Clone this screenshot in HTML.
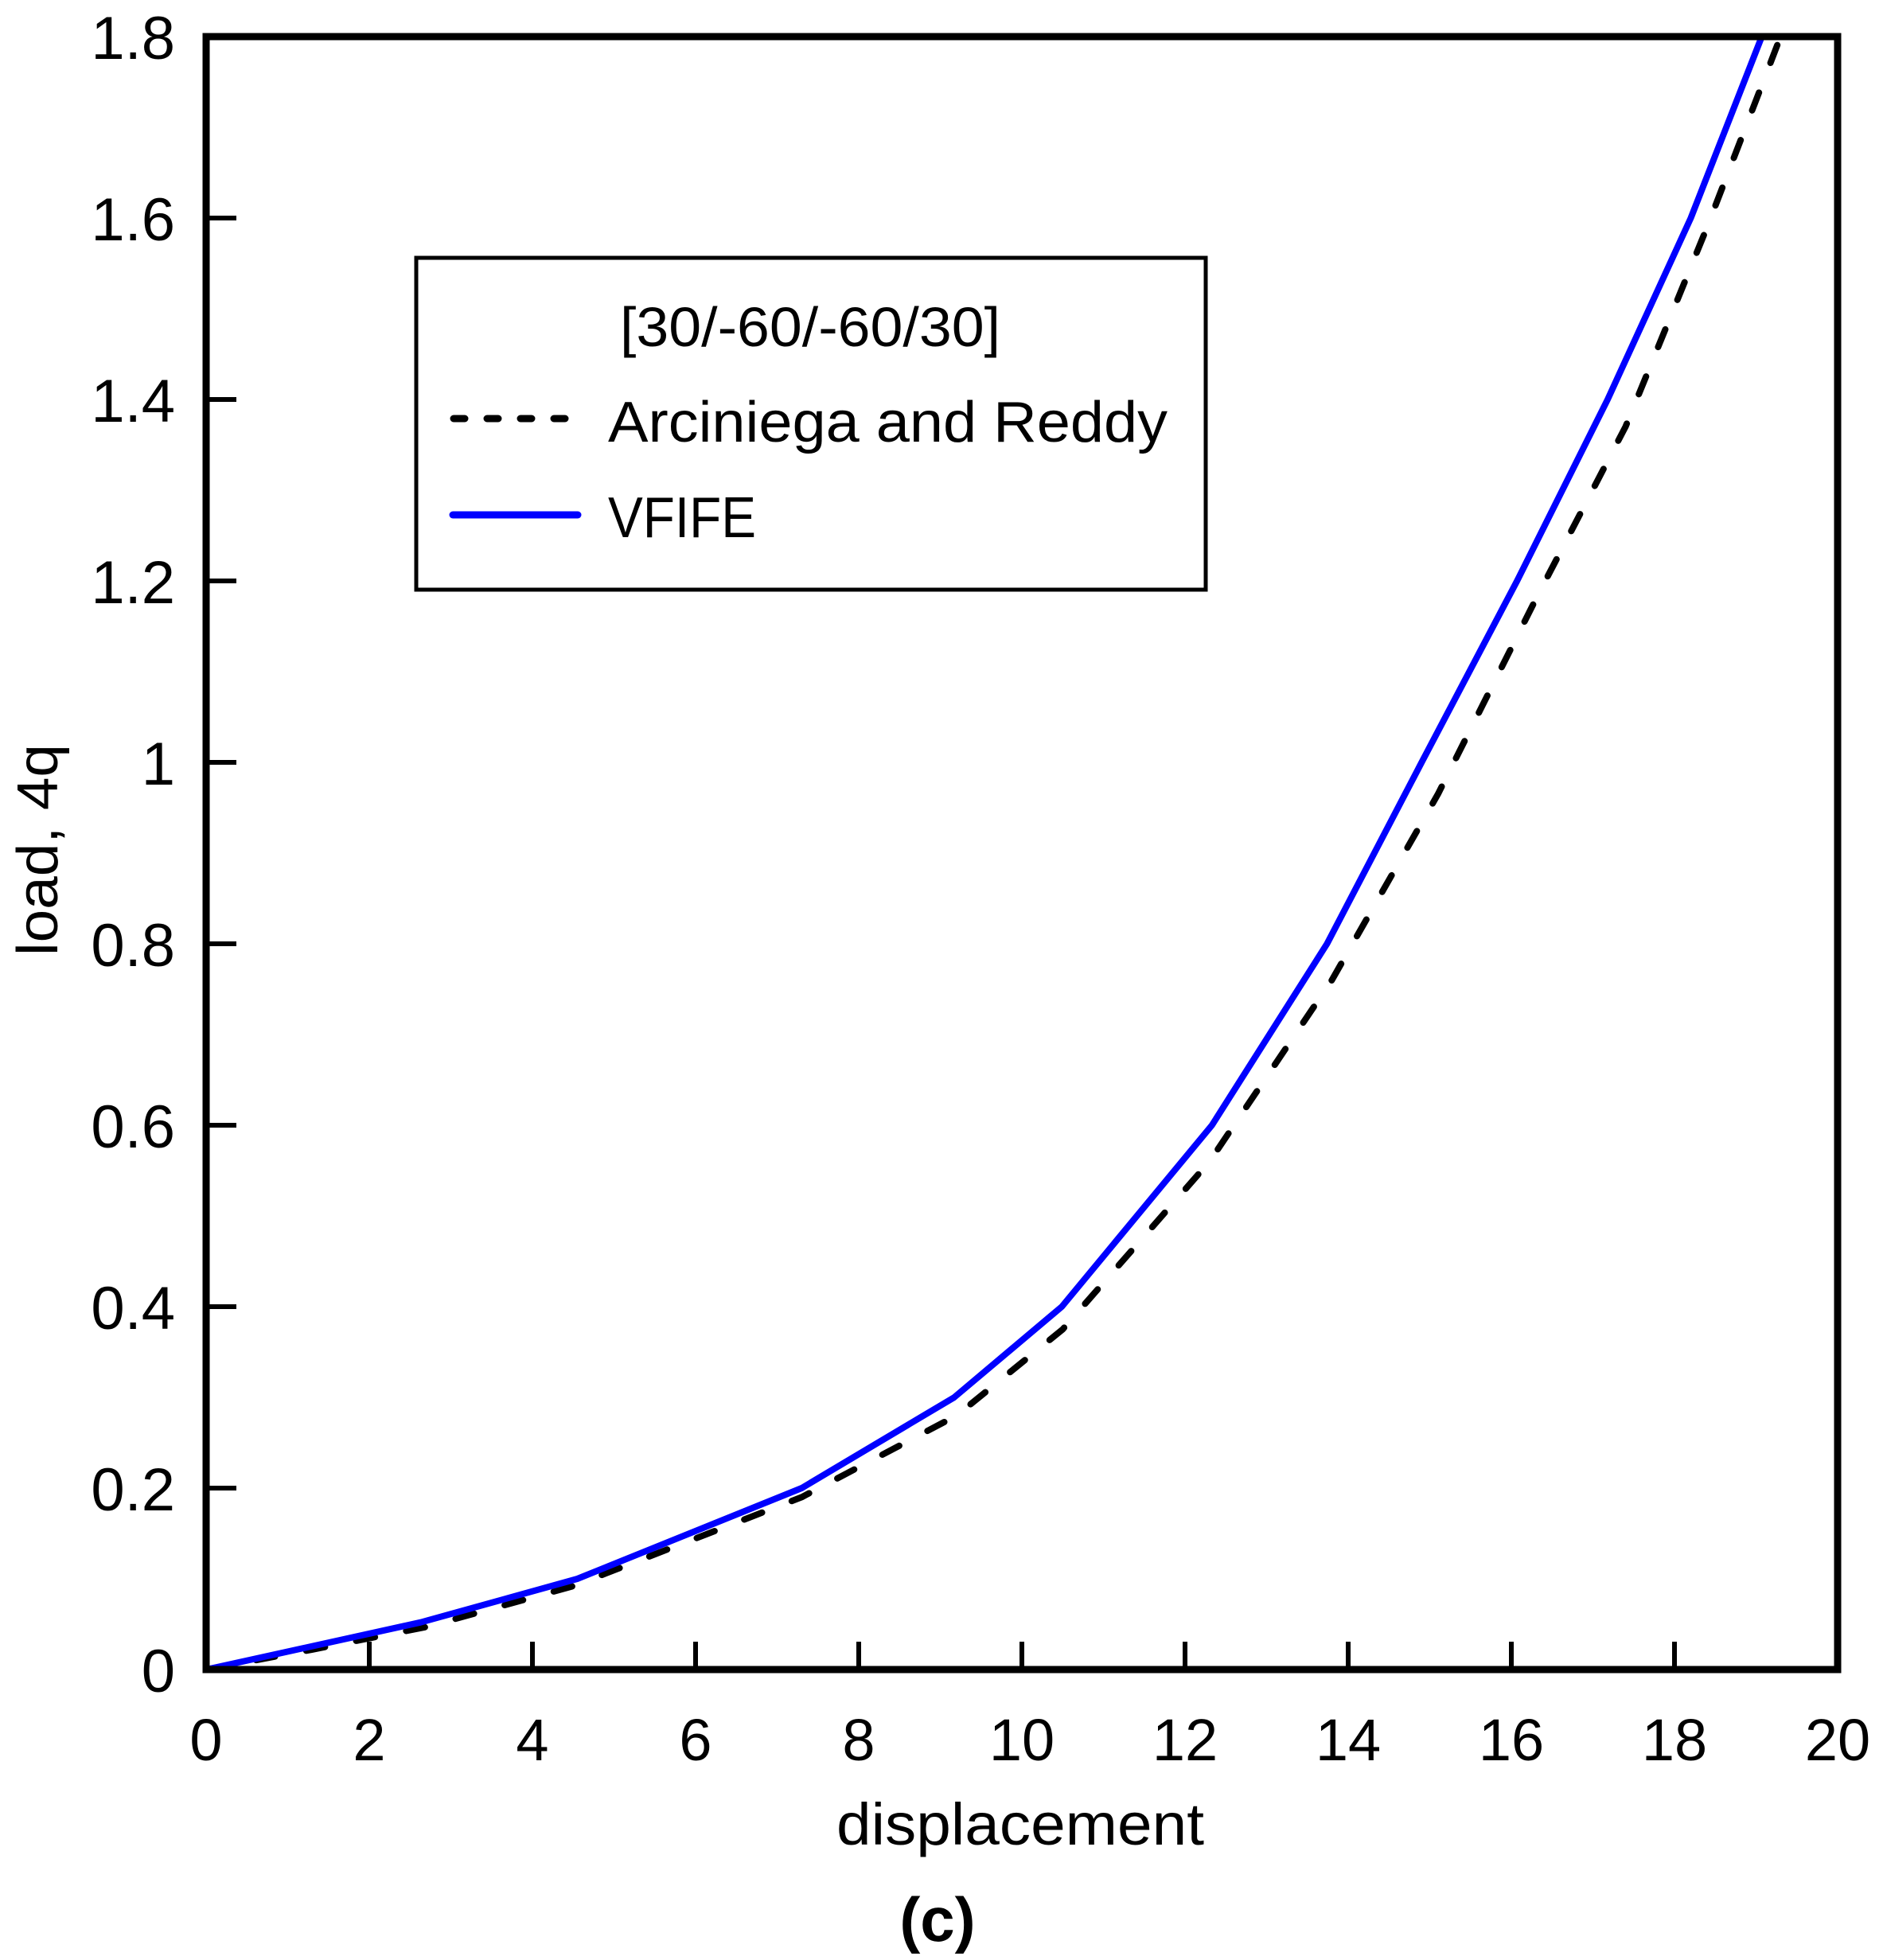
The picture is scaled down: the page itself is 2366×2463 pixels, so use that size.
<!DOCTYPE html>
<html><head><meta charset="utf-8"><style>
html,body{margin:0;padding:0;background:#fff;}
svg{display:block;}
text{font-family:"Liberation Sans",sans-serif;fill:#000;}
</style></head><body>
<svg id="chart" width="2366" height="2463" viewBox="0 0 2366 2463" xmlns="http://www.w3.org/2000/svg">
<g id="grid"></g>
</svg>
<script>
const xTicks = [0,2,4,6,8,10,12,14,16,18,20];
const yTicks = [0,0.2,0.4,0.6,0.8,1,1.2,1.4,1.6,1.8];
const yTickLabels = ['0','0.2','0.4','0.6','0.8','1','1.2','1.4','1.6','1.8'];
const refX = [0,1.3,2.7,4.5,7.3,9.2,10.5,12.3,13.8,15.1,16.3,17.4,18.4,19.3];
const refY = [0,0.022,0.047,0.092,0.19,0.28,0.375,0.56,0.76,0.965,1.18,1.37,1.59,1.8];
const vfX = [0,2.63,4.55,7.3,9.17,10.49,12.33,13.74,14.9,16.07,17.18,18.2,19.07];
const vfY = [0,0.052,0.1,0.2,0.3,0.4,0.6,0.8,1.0,1.2,1.4,1.6,1.8];

const L=259,R=2309,T=46,B=2098;
const sx=v=>L+(v-0)/(20-0)*(R-L);
const sy=v=>B-(v-0)/(1.8-0)*(B-T);
const NS='http://www.w3.org/2000/svg';
const svg=document.getElementById('chart');
function mk(tag,attrs,parent){const e=document.createElementNS(NS,tag);for(const k in attrs)e.setAttribute(k,attrs[k]);(parent||svg).appendChild(e);return e;}

const pts=(xs,ys)=>xs.map((x,i)=>sx(x).toFixed(1)+','+sy(ys[i]).toFixed(1)).join(' ');
const ref=mk('polyline',{points:pts(refX,refY),fill:'none',stroke:'#000','stroke-width':8,'stroke-dasharray':'24 40','stroke-linecap':'round','stroke-linejoin':'round'});


const vf=mk('polyline',{points:pts(vfX,vfY),fill:'none',stroke:'#0000ff','stroke-width':8,'stroke-linejoin':'round'});



const fr=mk('rect',{x:L,y:T,width:R-L,height:B-T,fill:'none',stroke:'#000','stroke-width':9});



xTicks.forEach((v,i)=>{
  if(i>0&&i<xTicks.length-1){
    const t=mk('line',{x1:sx(v),x2:sx(v),y1:B,y2:B-35,stroke:'#000','stroke-width':6});
    
    
  }
  const lb=mk('text',{x:sx(v),y:2212,'text-anchor':'middle','font-size':74});
  lb.textContent=String(v);
  
  
});
yTicks.forEach((v,i)=>{
  if(i>0&&i<yTicks.length-1){
    const t=mk('line',{x1:L,x2:L+38,y1:sy(v),y2:sy(v),stroke:'#000','stroke-width':6});
    
    
  }
  const lb=mk('text',{x:220,y:sy(v)+28,'text-anchor':'end','font-size':76});
  lb.textContent=yTickLabels[i];
  
  
});
</script>
<svg style="position:absolute;left:0;top:0" width="2366" height="2463" viewBox="0 0 2366 2463" xmlns="http://www.w3.org/2000/svg">
<text x="0" y="0" transform="translate(72,1068) rotate(-90)" text-anchor="middle" font-size="72" textLength="266" lengthAdjust="spacingAndGlyphs" font-family="Liberation Sans, sans-serif">load, 4q</text>
<text x="1282" y="2318" text-anchor="middle" font-size="74" textLength="462" lengthAdjust="spacingAndGlyphs" font-family="Liberation Sans, sans-serif">displacement</text>
<text x="1178" y="2439" text-anchor="middle" font-size="78" font-weight="bold" font-family="Liberation Serif, serif">(c)</text>
<g>
<rect x="523" y="324" width="992" height="417" fill="#fff" stroke="#000" stroke-width="5"/>
<text x="1018" y="435" text-anchor="middle" font-size="70" textLength="478" lengthAdjust="spacingAndGlyphs" font-family="Liberation Sans, sans-serif">[30/-60/-60/30]</text>
<line x1="570" y1="526" x2="725" y2="526" stroke="#000" stroke-width="9" stroke-dasharray="14 28" stroke-linecap="round"/>
<text x="764" y="555" font-size="72" textLength="703" lengthAdjust="spacingAndGlyphs" font-family="Liberation Sans, sans-serif">Arciniega and Reddy</text>
<line x1="569" y1="647" x2="726" y2="647" stroke="#0000ff" stroke-width="9" stroke-linecap="round"/>
<text x="764" y="675" font-size="72" textLength="186" lengthAdjust="spacingAndGlyphs" font-family="Liberation Sans, sans-serif">VFIFE</text>
</g>
</svg>
</body></html>
